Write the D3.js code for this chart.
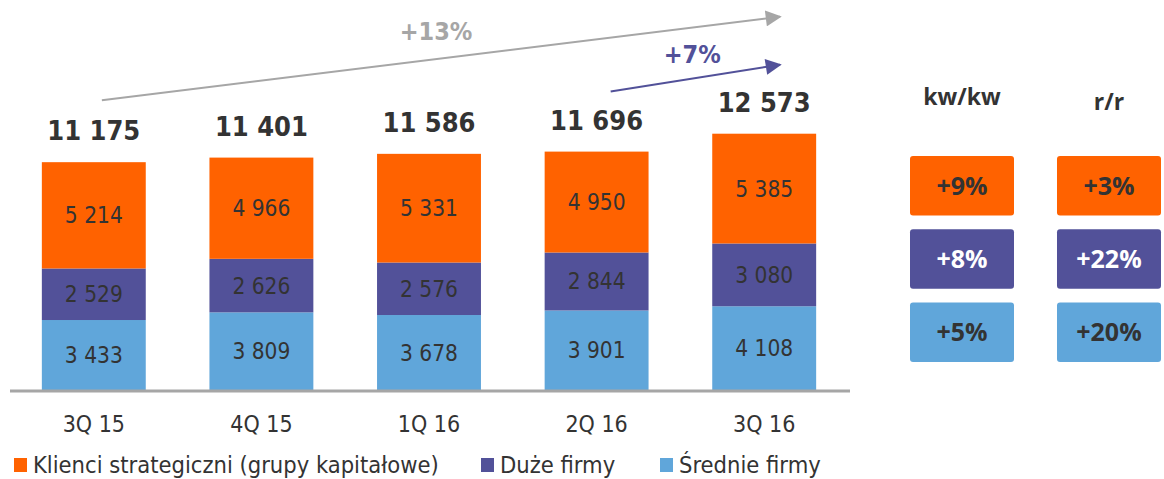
<!DOCTYPE html>
<html lang="pl">
<head>
<meta charset="UTF-8" />
<title>Klienci korporacyjni</title>
<script src="https://d3js.org/d3.v7.min.js"></script>
<style>
  body { margin: 0; background: #fff; }
  svg { display: block; font-family: "DejaVu Sans Condensed", "DejaVu Sans", sans-serif; }
</style>
</head>
<body>
<div id="chart"></div>
<script>
const quarters = ["3Q 15", "4Q 15", "1Q 16", "2Q 16", "3Q 16"];
const seriesNames = ["Klienci strategiczni (grupy kapitałowe)", "Duże firmy", "Średnie firmy"];
const strategic = [5214, 4966, 5331, 4950, 5385];
const large = [2529, 2626, 2576, 2844, 3080];
const medium = [3433, 3809, 3678, 3901, 4108];
const totals = [11175, 11401, 11586, 11696, 12573];
const qoq = ["+9%", "+8%", "+5%"];
const yoy = ["+3%", "+22%", "+20%"];
const growthAll = "+13%";
const growthLast = "+7%";

const W = 1164, H = 479;
const colors = ["#ff6200", "#525199", "#60a6da"];
const dark = "#333333";

const svg = d3.select("#chart").append("svg")
    .attr("width", W).attr("height", H);

const x = d3.scaleBand()
    .domain(quarters)
    .range([10, 848])
    .paddingInner(0.38)
    .paddingOuter(0.19);

const y = d3.scaleLinear()
    .domain([0, 13000])
    .range([390, 125]);

const fmt = d3.formatLocale({ decimal: ",", thousands: " ", grouping: [3], currency: ["", ""] }).format(",");

// stack: medium at the bottom, then large, then strategic
const rows = quarters.map((q, i) => ({ q, medium: medium[i], large: large[i], strategic: strategic[i] }));
const keys = ["medium", "large", "strategic"];
const stack = d3.stack().keys(keys)(rows);
const colorOf = { strategic: colors[0], large: colors[1], medium: colors[2] };

const layer = svg.selectAll("g.layer")
    .data(stack)
    .join("g")
    .attr("class", "layer")
    .attr("fill", d => colorOf[d.key]);

layer.selectAll("rect")
    .data(d => d)
    .join("rect")
    .attr("x", d => x(d.data.q))
    .attr("y", d => y(d[1]))
    .attr("width", x.bandwidth())
    .attr("height", d => y(d[0]) - y(d[1]));

layer.selectAll("text")
    .data(d => d.map(v => ({ v, key: d.key })))
    .join("text")
    .attr("x", d => x(d.v.data.q) + x.bandwidth() / 2)
    .attr("y", d => (y(d.v[0]) + y(d.v[1])) / 2 + 8)
    .attr("text-anchor", "middle")
    .attr("fill", dark)
    .style("font-size", "22.5px")
    .text(d => fmt(d.v.data[d.key]));

// totals
svg.selectAll("text.total")
    .data(quarters)
    .join("text")
    .attr("class", "total")
    .attr("x", q => x(q) + x.bandwidth() / 2)
    .attr("y", (q, i) => y(stack[2][i][1]) - 22)
    .attr("text-anchor", "middle")
    .attr("fill", dark)
    .style("font-size", "27px")
    .style("font-weight", "bold")
    .text((q, i) => fmt(totals[i]));

// baseline
svg.append("line")
    .attr("x1", 10).attr("x2", 850)
    .attr("y1", y(0) + 1).attr("y2", y(0) + 1)
    .attr("stroke", "#a6a6a6")
    .attr("stroke-width", 3);

// x labels
svg.selectAll("text.xlab")
    .data(quarters)
    .join("text")
    .attr("class", "xlab")
    .attr("x", q => x(q) + x.bandwidth() / 2)
    .attr("y", y(0) + 42)
    .attr("text-anchor", "middle")
    .attr("fill", dark)
    .style("font-size", "23px")
    .text(q => q);

// growth arrows
const defs = svg.append("defs");
[["gray", "#a6a6a6"], ["purple", colors[1]]].forEach(([id, c]) => {
    defs.append("marker")
        .attr("id", "arr-" + id)
        .attr("viewBox", "0 0 10 10")
        .attr("refX", 9).attr("refY", 5)
        .attr("markerWidth", 17).attr("markerHeight", 16)
        .attr("markerUnits", "userSpaceOnUse")
        .attr("orient", "auto")
        .append("path")
        .attr("d", "M0,0L10,5L0,10Z")
        .attr("fill", c);
});

const lastQ = quarters[quarters.length - 1];
const gx1 = x(quarters[0]) + 60, gy1 = y(totals[0]) - 62;
const gx2 = x(lastQ) + x.bandwidth() - 36, gy2 = y(totals[4]) - 117;
svg.append("line")
    .attr("x1", gx1).attr("y1", gy1).attr("x2", gx2).attr("y2", gy2)
    .attr("stroke", "#a6a6a6").attr("stroke-width", 2)
    .attr("marker-end", "url(#arr-gray)");
svg.append("text")
    .attr("x", x(quarters[2]) + x.bandwidth() / 2 + 7).attr("y", 40)
    .attr("text-anchor", "middle")
    .attr("fill", "#a6a6a6")
    .style("font-size", "25px").style("font-weight", "bold")
    .text(growthAll);

const px1 = x(quarters[3]) + 66, py1 = y(totals[3]) - 60;
const px2 = gx2, py2 = y(totals[4]) - 69;
svg.append("line")
    .attr("x1", px1).attr("y1", py1).attr("x2", px2).attr("y2", py2)
    .attr("stroke", colors[1]).attr("stroke-width", 2)
    .attr("marker-end", "url(#arr-purple)");
svg.append("text")
    .attr("x", x(lastQ) - 20).attr("y", 63)
    .attr("text-anchor", "middle")
    .attr("fill", colors[1])
    .style("font-size", "25px").style("font-weight", "bold")
    .text(growthLast);

// right panel: q/q and y/y changes
const panelX = d3.scaleBand().domain(["kw/kw", "r/r"]).range([910, 1161]).paddingInner(0.2925);
const panelY = d3.scaleBand().domain(d3.range(3)).range([156, 362]).paddingInner(0.19);
const panelFont = "'Open Sans', 'DejaVu Sans', sans-serif";

svg.selectAll("text.head")
    .data(panelX.domain())
    .join("text")
    .attr("class", "head")
    .attr("x", d => panelX(d) + panelX.bandwidth() / 2)
    .attr("y", (d, i) => i === 0 ? 105 : 110)
    .attr("text-anchor", "middle")
    .attr("fill", dark)
    .style("font-family", panelFont)
    .style("font-size", "23px").style("font-weight", "bold")
    .text(d => d);

const cols = [qoq, yoy];
panelX.domain().forEach((col, ci) => {
    const g = svg.append("g");
    g.selectAll("rect")
        .data(cols[ci])
        .join("rect")
        .attr("x", panelX(col))
        .attr("y", (d, i) => panelY(i))
        .attr("width", panelX.bandwidth())
        .attr("height", panelY.bandwidth())
        .attr("rx", 3)
        .attr("fill", (d, i) => colors[i]);
    g.selectAll("text")
        .data(cols[ci])
        .join("text")
        .attr("x", panelX(col) + panelX.bandwidth() / 2)
        .attr("y", (d, i) => panelY(i) + panelY.bandwidth() / 2 + 9)
        .attr("text-anchor", "middle")
        .attr("fill", (d, i) => i === 1 ? "#ffffff" : dark)
        .style("font-family", panelFont)
        .style("font-size", "25px").style("font-weight", "bold")
        .text(d => d);
});

// legend
const legendX = [14, 481, 660];
const legend = svg.selectAll("g.leg")
    .data(seriesNames)
    .join("g")
    .attr("class", "leg")
    .attr("transform", (d, i) => `translate(${legendX[i]},458)`);
legend.append("rect")
    .attr("width", 13).attr("height", 14)
    .attr("fill", (d, i) => colors[i]);
legend.append("text")
    .attr("x", 19).attr("y", 15)
    .attr("fill", dark)
    .style("font-size", "23.5px")
    .text(d => d);
</script>
</body>
</html>
